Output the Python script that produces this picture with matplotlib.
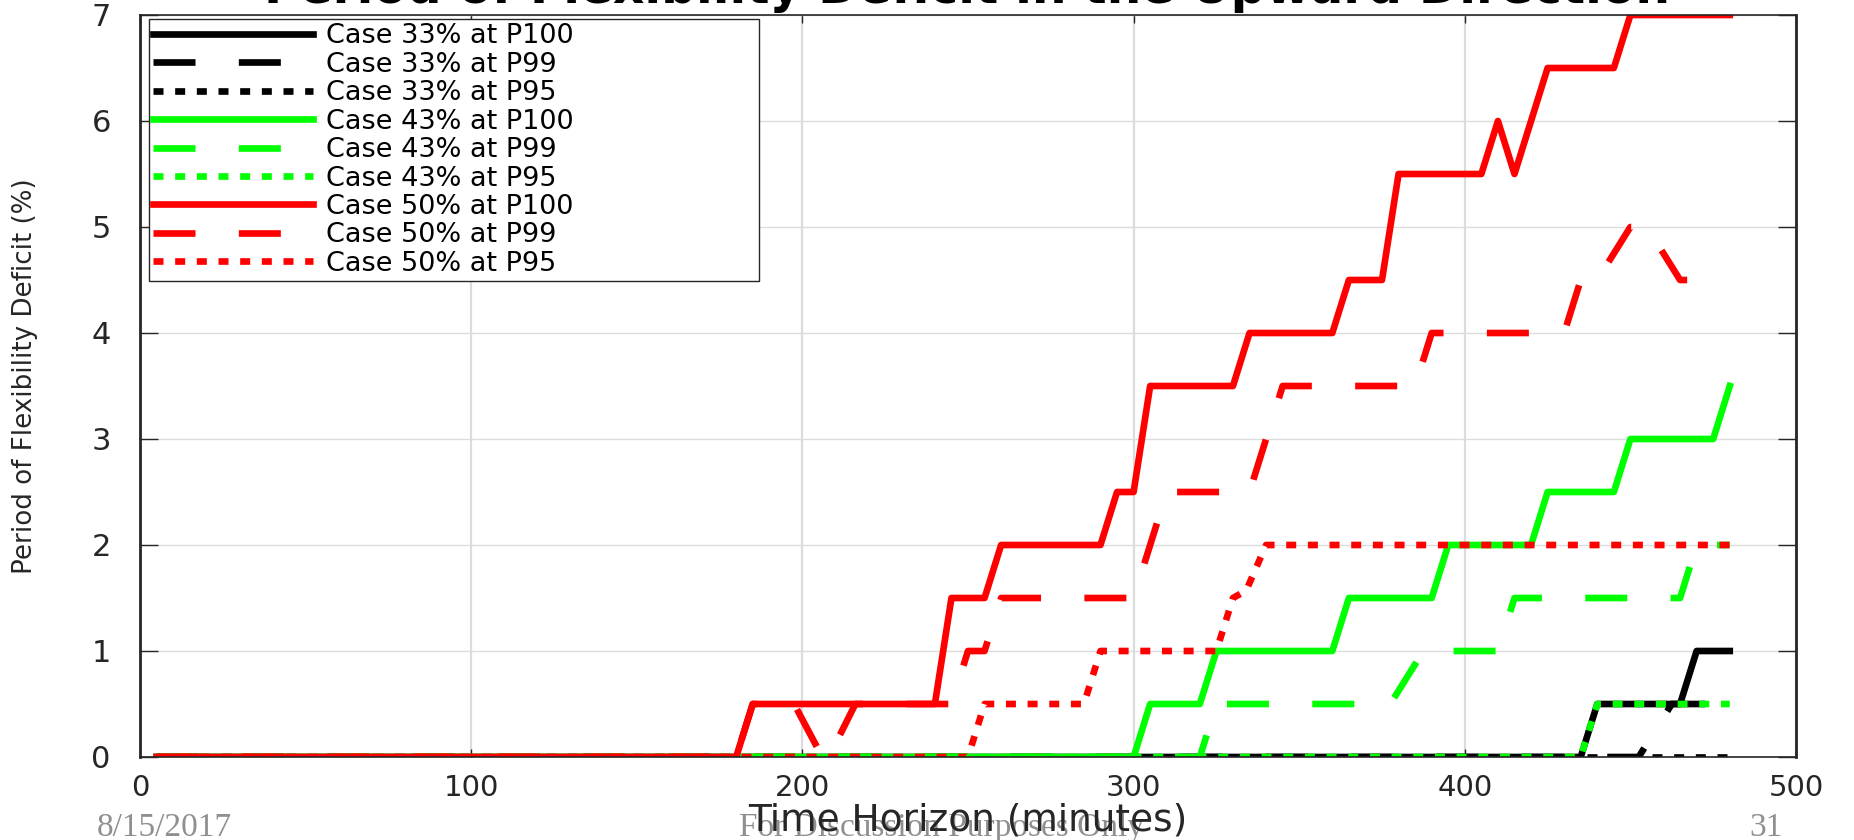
import matplotlib
matplotlib.use("Agg")
import matplotlib.pyplot as plt

# minutes / deficit (%), one pair per case
minutes_33_p100 = [5, 435, 440, 465, 470, 480]
defc_33_p100 = [0, 0, 0.5, 0.5, 1.0, 1.0]
minutes_33_p99 = [5, 452.5, 462.5, 480]
defc_33_p99 = [0, 0, 0.5, 0.5]
minutes_33_p95 = [5, 480]
defc_33_p95 = [0, 0]

minutes_43_p100 = [5, 300, 305, 320, 325, 360, 365, 390, 395, 420, 425, 445, 450, 475, 480]
defc_43_p100 = [0, 0, 0.5, 0.5, 1.0, 1.0, 1.5, 1.5, 2.0, 2.0, 2.5, 2.5, 3.0, 3.0, 3.5]
minutes_43_p99 = [5, 320, 325, 377.5, 387.5, 410, 415, 465, 470, 480]
defc_43_p99 = [0, 0, 0.5, 0.5, 1.0, 1.0, 1.5, 1.5, 2.0, 2.0]
minutes_43_p95 = [5, 435, 440, 480]
defc_43_p95 = [0, 0, 0.5, 0.5]

minutes_50_p100 = [5, 180, 185, 240, 245, 255, 260, 290, 295, 300, 305, 330, 335,
                   360, 365, 375, 380, 405, 410, 415, 425, 445, 450, 480]
defc_50_p100 = [0, 0, 0.5, 0.5, 1.5, 1.5, 2.0, 2.0, 2.5, 2.5, 3.5, 3.5, 4.0,
                4.0, 4.5, 4.5, 5.5, 5.5, 6.0, 5.5, 6.5, 6.5, 7.0, 7.0]
minutes_50_p99 = [5, 180, 185, 197.5, 206, 208, 216, 245, 250, 255, 260, 300, 310,
                  335, 345, 385, 390, 430, 435, 440, 450, 455, 465, 480]
defc_50_p99 = [0, 0, 0.5, 0.5, 0, 0, 0.5, 0.5, 1.0, 1.0, 1.5, 1.5, 2.5,
               2.5, 3.5, 3.5, 4.0, 4.0, 4.5, 4.5, 5.0, 5.0, 4.5, 4.5]
minutes_50_p95 = [5, 250, 255, 285, 290, 325, 330, 334, 340, 480]
defc_50_p95 = [0, 0, 0.5, 0.5, 1.0, 1.0, 1.5, 1.57, 2.0, 2.0]

labels = ["Case 33% at P100", "Case 33% at P99", "Case 33% at P95",
          "Case 43% at P100", "Case 43% at P99", "Case 43% at P95",
          "Case 50% at P100", "Case 50% at P99", "Case 50% at P95"]
xticks = [0, 100, 200, 300, 400, 500]
yticks = [0, 1, 2, 3, 4, 5, 6, 7]

LW = 4.8
DASH = (0, (6.3, 6.5))
DOT = (0, (1.5, 1.75))
AX_COL = "#262626"

series = [
    (minutes_33_p100, defc_33_p100, "#000000", "-"),
    (minutes_33_p99, defc_33_p99, "#000000", DASH),
    (minutes_33_p95, defc_33_p95, "#000000", DOT),
    (minutes_43_p100, defc_43_p100, "#00ff00", "-"),
    (minutes_43_p99, defc_43_p99, "#00ff00", DASH),
    (minutes_43_p95, defc_43_p95, "#00ff00", DOT),
    (minutes_50_p100, defc_50_p100, "#ff0000", "-"),
    (minutes_50_p99, defc_50_p99, "#ff0000", DASH),
    (minutes_50_p95, defc_50_p95, "#ff0000", DOT),
]

W, H = 1854, 840
fig = plt.figure(figsize=(W / 100, H / 100), dpi=100)
ax = fig.add_axes([140 / W, 1 - 757 / H, (1796 - 140) / W, (757 - 15) / H])

for (t, v, col, ls), lab in zip(series, labels):
    ax.plot(t, v, color=col, linestyle=ls, lw=LW, label=lab)

ax.set_xlim(0, 500)
ax.set_ylim(0, 7)
ax.set_xticks(xticks)
ax.set_yticks(yticks)
ax.set_axisbelow(True)
ax.xaxis.grid(True, color="#dcdcdc", lw=1.6)
ax.yaxis.grid(True, color="#dcdcdc", lw=1.0)

ax.tick_params(axis="x", direction="in", top=True, length=5.8, width=1.0,
               color=AX_COL, labelcolor=AX_COL, labelsize=21, pad=12)
ax.tick_params(axis="y", direction="in", right=True, length=13, width=1.0,
               color=AX_COL, labelcolor=AX_COL, labelsize=22, pad=21)
for side in ["left", "right"]:
    ax.spines[side].set_linewidth(2.0)
    ax.spines[side].set_color(AX_COL)
for side in ["top", "bottom"]:
    ax.spines[side].set_linewidth(1.2)
    ax.spines[side].set_color(AX_COL)

ax.set_xlabel("Time Horizon (minutes)", fontsize=27, color=AX_COL, va="baseline")
ax.xaxis.set_label_coords(0.5, (757 - 830) / 742)
ax.set_ylabel("Period of Flexibility Deficit (%)", fontsize=18.8, color=AX_COL, va="center")
ax.yaxis.set_label_coords((25 - 140) / 1656, (757 - 376) / 742)

leg = ax.legend(loc="upper left",
                bbox_to_anchor=(149 / W, 1 - 292 / H, (759 - 149) / W, (292 - 19) / H),
                bbox_transform=fig.transFigure, mode="expand", borderaxespad=0,
                fontsize=19.5, handlelength=5.9, handletextpad=0.48, labelspacing=0.09,
                borderpad=0.16, fancybox=False, framealpha=1, edgecolor=AX_COL)
leg.get_frame().set_linewidth(1.0)

fig.text(967 / W, 1 - 3 / H, "Period of Flexibility Deficit in the Upward Direction",
         ha="center", va="baseline", fontsize=35, fontweight="bold", color="#000000")

# slide footer
foot = dict(family="Liberation Serif", fontsize=24, color="#8f8f8f", va="baseline", zorder=-1)
fig.text(97 / W, 4 / H, "8/15/2017", ha="left", **foot)
fig.text(942 / W, 4 / H, "For Discussion Purposes Only", ha="center", **foot)
fig.text(1783 / W, 4 / H, "31", ha="right", **foot)

fig.savefig("out.png", dpi=100)
